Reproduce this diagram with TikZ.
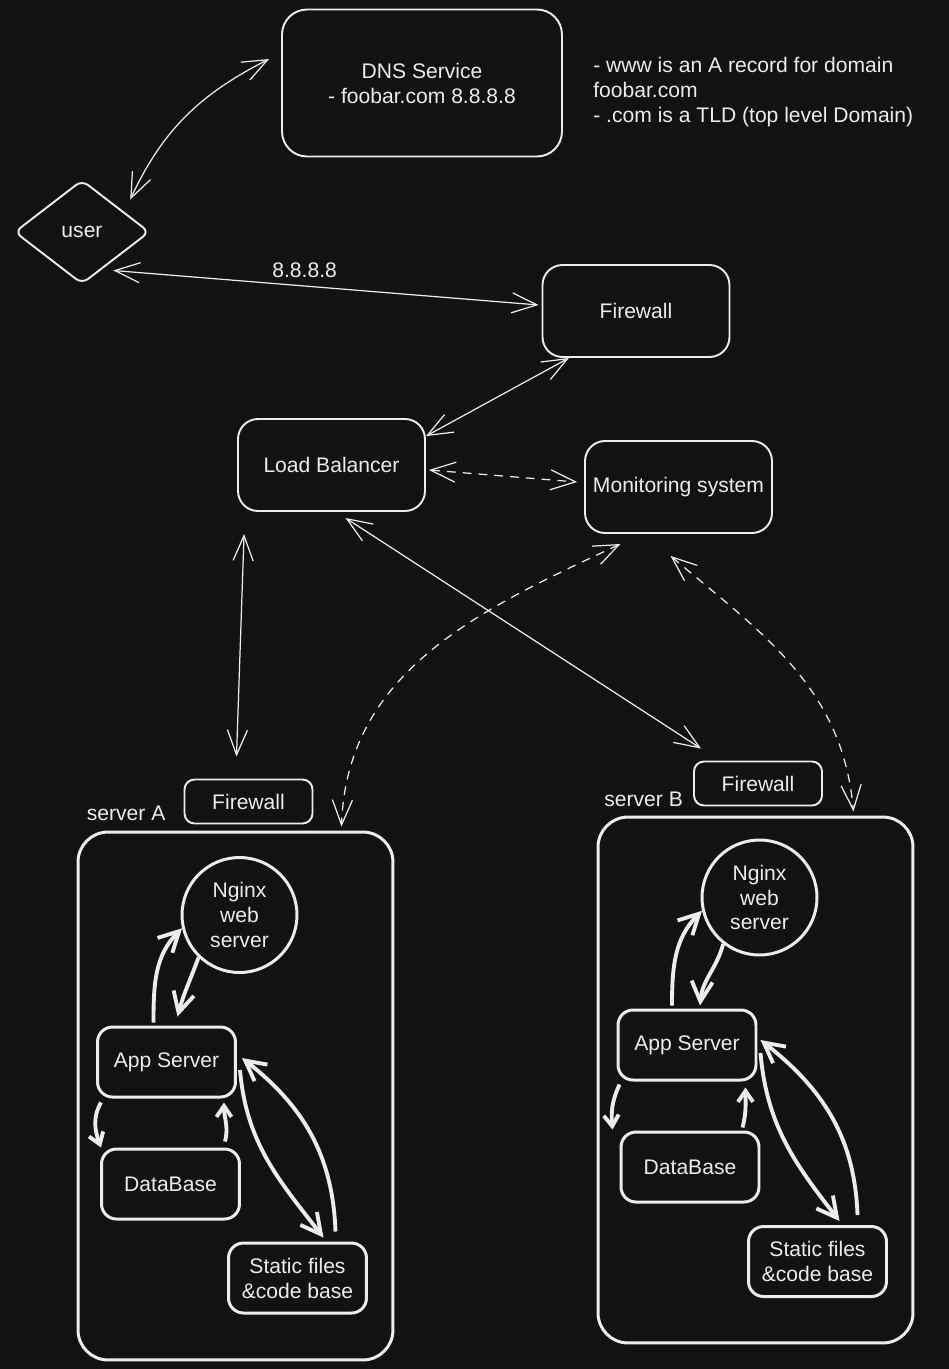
\documentclass[tikz,border=0pt]{standalone}
\usepackage{fontspec}
\setmainfont{Liberation Sans}
\usepackage{tikz}
\usetikzlibrary{shapes,arrows.meta,positioning,calc}

\definecolor{ink}{HTML}{ECECEC}
\definecolor{night}{HTML}{121212}
\newcommand{\hand}{\fontsize{12}{14.2}\selectfont}

\begin{document}
\begin{tikzpicture}[
    x=0.02cm, y=-0.02cm,
    every node/.style={font=\hand, text=ink},
    card/.style={rectangle, rounded corners=0.4cm, draw=ink, line width=1.1pt, minimum width=3.74cm, minimum height=1.84cm, align=center, inner sep=0pt},
    gate/.style={rectangle, rounded corners=0.2cm, draw=ink, line width=1.1pt, minimum width=2.56cm, minimum height=0.88cm, inner sep=0pt},
    server/.style={rectangle, rounded corners=0.6cm, draw=ink, line width=1.7pt, minimum width=6.3cm, minimum height=10.56cm, inner sep=0pt},
    part/.style={rectangle, rounded corners=0.3cm, draw=ink, line width=1.7pt, minimum width=2.76cm, minimum height=1.4cm, align=center, inner sep=0pt},
    web/.style={circle, draw=ink, line width=1.7pt, minimum size=2.3cm, align=center, inner sep=0pt},
    link/.style={<->, draw=ink, line width=0.7pt, >={Straight Barb[length=0.5cm, width=0.4cm]}},
    watch/.style={link, dash pattern=on 5pt off 4pt},
    flow/.style={->, draw=ink, line width=2.2pt, >={Straight Barb[length=0.4cm, width=0.42cm]}},
    hop/.style={flow, >={Straight Barb[length=0.22cm, width=0.3cm]}},
]
\fill[night] (0,0) rectangle (949,1369);
\useasboundingbox (0,0) rectangle (949,1369);

% Entry: DNS, user and the edge firewall
\node[card, rounded corners=0.5cm, minimum width=5.6cm, minimum height=2.94cm] (dns) at (422,83) {DNS Service\\- foobar.com 8.8.8.8};
\node[anchor=north west, align=left, inner sep=0pt] (note) at (593,57) {- www is an A record for domain\\foobar.com\\- .com is a TLD (top level Domain)};
\node[diamond, draw=ink, line width=1.1pt, aspect=1.3, minimum width=2.7cm, minimum height=2.08cm, rounded corners=0.15cm, inner sep=0pt] (user) at (82,232) {user};
\node[card] (fw) at (636,311) {Firewall};

% Balancing and monitoring
\node[card] (lb) at (331.5,465) {Load Balancer};
\node[card] (mon) at (678.5,487) {Monitoring system};

% Server A
\node[server] (boxA) at (235.5,1096) {};
\node[gate] (fwA) at (248.5,801.5) {Firewall};
\node[anchor=base east] (labA) at ($(fwA.south west)+(-12,-4)$) {server A};
\node[web] (ngA) at (239.5,915) {Nginx\\web\\server};
\node[part] (appA) at (166.5,1062) {App Server};
\node[part] (dbA) at (170.5,1184) {DataBase};
\node[part] (stA) at (297.5,1278) {Static files\\\&code base};

% Server B
\node[server, minimum height=10.52cm] (boxB) at (755.5,1080) {};
\node[gate] (fwB) at (758,783.5) {Firewall};
\node[anchor=base east] (labB) at ($(fwB.south west)+(-4,0)$) {server B};
\node[web] (ngB) at (759.5,897.5) {Nginx\\web\\server};
\node[part] (appB) at (687,1045) {App Server};
\node[part] (dbB) at (690,1167) {DataBase};
\node[part] (stB) at (817.5,1261.5) {Static files\\\&code base};

% Outer connections
\draw[link] ($(user.north east)+(14,-6)$) to[out=65, in=207] ($(dns.west)+(-12,-24)$);
\draw[link] ($(user.south east)+(-3,12)$) -- ($(fw.west)+(-3,-6)$) node[pos=0.45, above=1pt] (ip) {8.8.8.8};
\draw[link] (fw.215) -- (lb.17);
\draw[watch] ($(lb.east)+(3,5)$) -- ($(mon.west)+(-7,-5)$);
\draw[link] ($(lb.south west)+(7,22)$) -- ($(fwA.north)+(-12,-22)$);
\draw[link] ($(lb.south)+(14,6)$) -- ($(fwB.north west)+(8,-12)$);
\draw[watch] ($(mon.south)+(-58,10)$) to[out=205, in=88] ($(boxA.north east)+(-53,-4)$);
\draw[watch] ($(mon.south)+(-8,22)$) to[out=-40, in=95] ($(boxB.north east)+(-61,-4)$);

% Inside server A
\draw[flow] ($(appA.north)+(-13,-3)$) to[out=90, in=225] (ngA.193);
\draw[flow] (ngA.226) to[out=-110, in=75] ($(appA.north)+(11,-9)$);
\draw[hop] ($(appA.south west)+(5,4)$) to[out=240, in=110] ($(dbA.north west)+(1,0)$);
\draw[hop] ($(dbA.north east)+(-16,-6)$) to[out=75, in=-90] ($(appA.south east)+(-13,4)$);
\draw[flow] ($(appA.east)+(3,8)$) to[out=-85, in=128] ($(stA.north)+(26,-4)$);
\draw[flow] ($(stA.north)+(38,-10)$) to[out=92, in=-38] ($(appA.east)+(5,-4)$);

% Inside server B
\draw[flow] ($(appB.north)+(-15,-3)$) to[out=90, in=225] (ngB.193);
\draw[flow] (ngB.232) to[out=-105, in=85] ($(appB.north)+(13,-3)$);
\draw[hop] ($(appB.south west)+(3,3)$) to[out=245, in=95] ($(dbB.north west)+(-7,-1)$);
\draw[hop] ($(dbB.north east)+(-18,-3)$) to[out=75, in=-90] ($(appB.south east)+(-12,6)$);
\draw[flow] ($(appB.east)+(3,8)$) to[out=-85, in=128] ($(stB.north)+(22,-4)$);
\draw[flow] ($(stB.north)+(40,-10)$) to[out=92, in=-38] ($(appB.east)+(3,-5)$);

\end{tikzpicture}
\end{document}
